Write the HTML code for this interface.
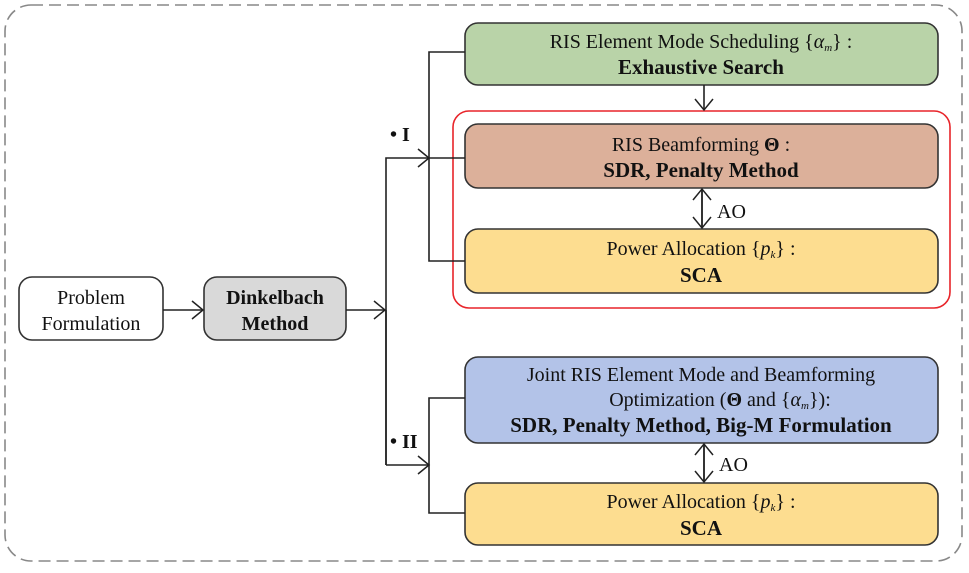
<!DOCTYPE html>
<html><head><style>
body{margin:0;background:#fff;}
svg text{font-family:"Liberation Serif",serif;fill:#111;}
</style></head><body>
<svg width="969" height="568" viewBox="0 0 969 568" xmlns="http://www.w3.org/2000/svg">
<defs>
<marker id="a" markerWidth="14" markerHeight="20" refX="12" refY="10" orient="auto" markerUnits="userSpaceOnUse">
<path d="M1,1 L12,10 L1,19" fill="none" stroke="#222" stroke-width="1.5"/>
</marker>
</defs>
<rect x="5" y="5" width="957" height="556" rx="26" fill="none" stroke="#888" stroke-width="1.6" stroke-dasharray="12,6"/>
<rect x="453" y="111" width="497" height="197" rx="16" fill="none" stroke="#e8242a" stroke-width="1.6"/>
<rect x="465" y="23" width="473" height="62" rx="13" fill="#b9d3a8" stroke="#333" stroke-width="1.6"/>
<rect x="465" y="124" width="473" height="64" rx="13" fill="#dcb09a" stroke="#333" stroke-width="1.6"/>
<rect x="465" y="229" width="473" height="64" rx="13" fill="#fddd90" stroke="#333" stroke-width="1.6"/>
<rect x="465" y="357" width="473" height="86" rx="13" fill="#b3c3e8" stroke="#333" stroke-width="1.6"/>
<rect x="465" y="483" width="473" height="62" rx="13" fill="#fddd90" stroke="#333" stroke-width="1.6"/>
<rect x="19" y="277" width="144" height="63" rx="13" fill="#fff" stroke="#333" stroke-width="1.6"/>
<rect x="204" y="277" width="142" height="63" rx="13" fill="#d9d9d9" stroke="#333" stroke-width="1.6"/>
<g stroke="#222" stroke-width="1.6" fill="none">
<line x1="163" y1="310" x2="203" y2="310" marker-end="url(#a)"/>
<line x1="346" y1="310" x2="385" y2="310" marker-end="url(#a)"/>
<polyline points="386,465 386,158 429,158" marker-end="url(#a)"/>
<line x1="429" y1="158" x2="465" y2="158"/>
<polyline points="465,52 429,52 429,261 465,261"/>
<line x1="386" y1="310" x2="386" y2="465"/>
<line x1="386" y1="465" x2="429" y2="465" marker-end="url(#a)"/>
<polyline points="465,398 429,398 429,513 465,513"/>
<line x1="704" y1="85" x2="704" y2="110" marker-end="url(#a)"/>
<line x1="702" y1="190" x2="702" y2="228" marker-end="url(#a)"/>
<line x1="702" y1="227" x2="702" y2="189" marker-end="url(#a)"/>
<line x1="704" y1="445" x2="704" y2="482" marker-end="url(#a)"/>
<line x1="704" y1="481" x2="704" y2="444" marker-end="url(#a)"/>
</g>
<g font-size="20" text-anchor="middle">
<text x="91" y="304">Problem</text>
<text x="91" y="330">Formulation</text>
<text x="275" y="304" font-weight="bold" font-size="20">Dinkelbach</text>
<text x="275" y="330" font-weight="bold" font-size="20">Method</text>
<text x="701" y="48">RIS Element Mode Scheduling {<tspan font-style="italic">α</tspan><tspan font-size="11" font-style="italic" dy="3">m</tspan><tspan dy="-3">} :</tspan></text>
<text x="701" y="74" font-weight="bold" font-size="21">Exhaustive Search</text>
<text x="701" y="151">RIS Beamforming <tspan font-weight="bold">Θ</tspan> :</text>
<text x="701" y="177" font-weight="bold" font-size="21">SDR, Penalty Method</text>
<text x="701" y="255">Power Allocation {<tspan font-style="italic">p</tspan><tspan font-size="11" font-style="italic" dy="3">k</tspan><tspan dy="-3">} :</tspan></text>
<text x="701" y="282" font-weight="bold" font-size="21">SCA</text>
<text x="701" y="381">Joint RIS Element Mode and Beamforming</text>
<text x="720" y="406">Optimization (<tspan font-weight="bold">Θ</tspan> and {<tspan font-style="italic">α</tspan><tspan font-size="11" font-style="italic" dy="3">m</tspan><tspan dy="-3">}):</tspan></text>
<text x="701" y="432" font-weight="bold" font-size="21">SDR, Penalty Method, Big-M Formulation</text>
<text x="701" y="508">Power Allocation {<tspan font-style="italic">p</tspan><tspan font-size="11" font-style="italic" dy="3">k</tspan><tspan dy="-3">} :</tspan></text>
<text x="701" y="535" font-weight="bold" font-size="21">SCA</text>
</g>
<g font-size="20">
<text x="717" y="218">AO</text>
<text x="719" y="471">AO</text>
<text x="390" y="141" font-weight="bold">• I</text>
<text x="390" y="448" font-weight="bold">• II</text>
</g>
</svg>
</body></html>
